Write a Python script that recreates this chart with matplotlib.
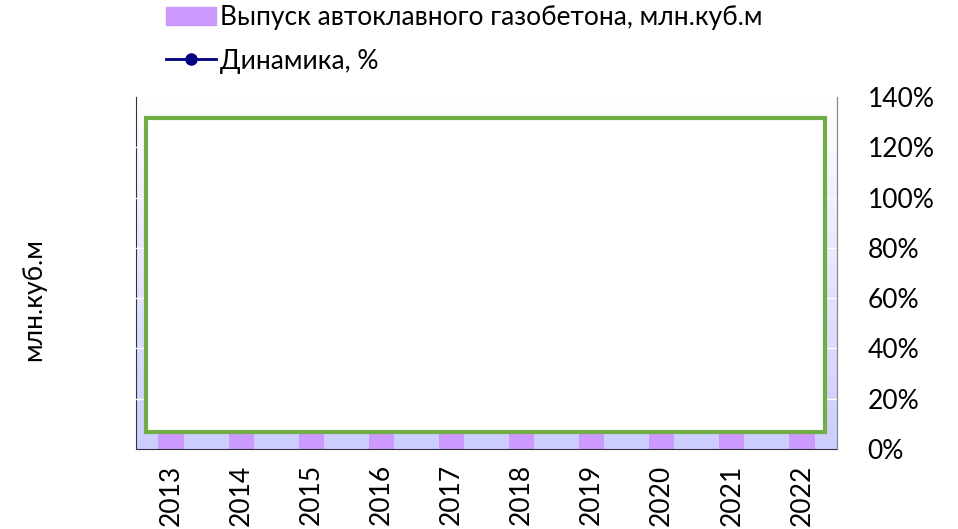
import numpy as np
import matplotlib
matplotlib.use("Agg")
import matplotlib.pyplot as plt
from matplotlib.patches import Rectangle
from matplotlib.lines import Line2D
from matplotlib.colors import LinearSegmentedColormap

plt.rcParams['font.family'] = ['Lato', 'DejaVu Sans']

years = ['2013', '2014', '2015', '2016', '2017', '2018', '2019', '2020', '2021', '2022']
output_mln_m3 = [14.3, 15.0, 13.7, 12.4, 11.5, 12.0, 12.6, 12.9, 14.1, 14.7]
dynamics_pct = [108, 105, 91, 91, 93, 104, 105, 102, 109, 104]
pct_ticks = [0, 20, 40, 60, 80, 100, 120, 140]

FS = 19
W, H = 958, 529
fig = plt.figure(figsize=(W / 100, H / 100), dpi=100)
ax = fig.add_axes([136 / W, 1 - 449 / H, (837 - 136) / W, (449 - 97) / H])

# gradient background
cmap = LinearSegmentedColormap.from_list('g', ['#ffffff', '#ccccff'])
grad = np.linspace(0, 1, 256).reshape(-1, 1)
ax.imshow(grad, aspect='auto', cmap=cmap, extent=[0, 1, 0, 1],
          transform=ax.transAxes, zorder=0, origin='upper')

x = np.arange(len(years))
ax.bar(x, output_mln_m3, width=0.36, color='#cc99ff', zorder=2)
ax.set_xlim(-0.5, len(years) - 0.5)
ax.set_ylim(0, 16)
ax.set_yticks([])
ax.set_xticks(x)
ax.set_xticklabels(years, rotation=90, fontsize=FS)
ax.tick_params(axis='x', length=0, pad=11)
ax.set_ylabel('млн.куб.м', fontsize=FS)
ax.yaxis.set_label_coords((46 - 136) / 701, (449 - 300) / 352)

ax.spines['top'].set_visible(False)
ax.spines['left'].set_color('#333340')
ax.spines['bottom'].set_color('#333340')
ax.spines['right'].set_color('#888888')

ax2 = ax.twinx()
ax2.set_ylim(0, 140)
ax2.set_yticks(pct_ticks)
ax2.set_yticklabels([f'{v}%' for v in pct_ticks], fontsize=FS)
ax2.tick_params(axis='y', length=0, pad=22)
for v in pct_ticks[1:-1]:
    ax2.axhline(v, color='white', lw=1, zorder=1)
ax2.plot(x, dynamics_pct, color='#000080', marker='o', ms=8, lw=2, zorder=3)
for s in ['top', 'left', 'bottom']:
    ax2.spines[s].set_visible(False)
ax2.spines['right'].set_color('#888888')

# overlay shape
ax2.add_patch(Rectangle((0.014, 0.048), 0.969, 0.892, transform=ax.transAxes,
                        facecolor='white', edgecolor='#70ad47', lw=3, zorder=10))

handles = [Rectangle((0, 0), 1, 1, color='#cc99ff'),
           Line2D([0], [0], color='#000080', marker='o', ms=8, lw=2)]
labels = ['Выпуск автоклавного газобетона, млн.куб.м', 'Динамика, %']
fig.legend(handles, labels, loc='upper left', bbox_to_anchor=(150 / W, 1.02),
           frameon=False, fontsize=FS, handlelength=1.9, handletextpad=0.15,
           labelspacing=0.7, borderaxespad=0.2)

fig.savefig('out.png', dpi=100)
